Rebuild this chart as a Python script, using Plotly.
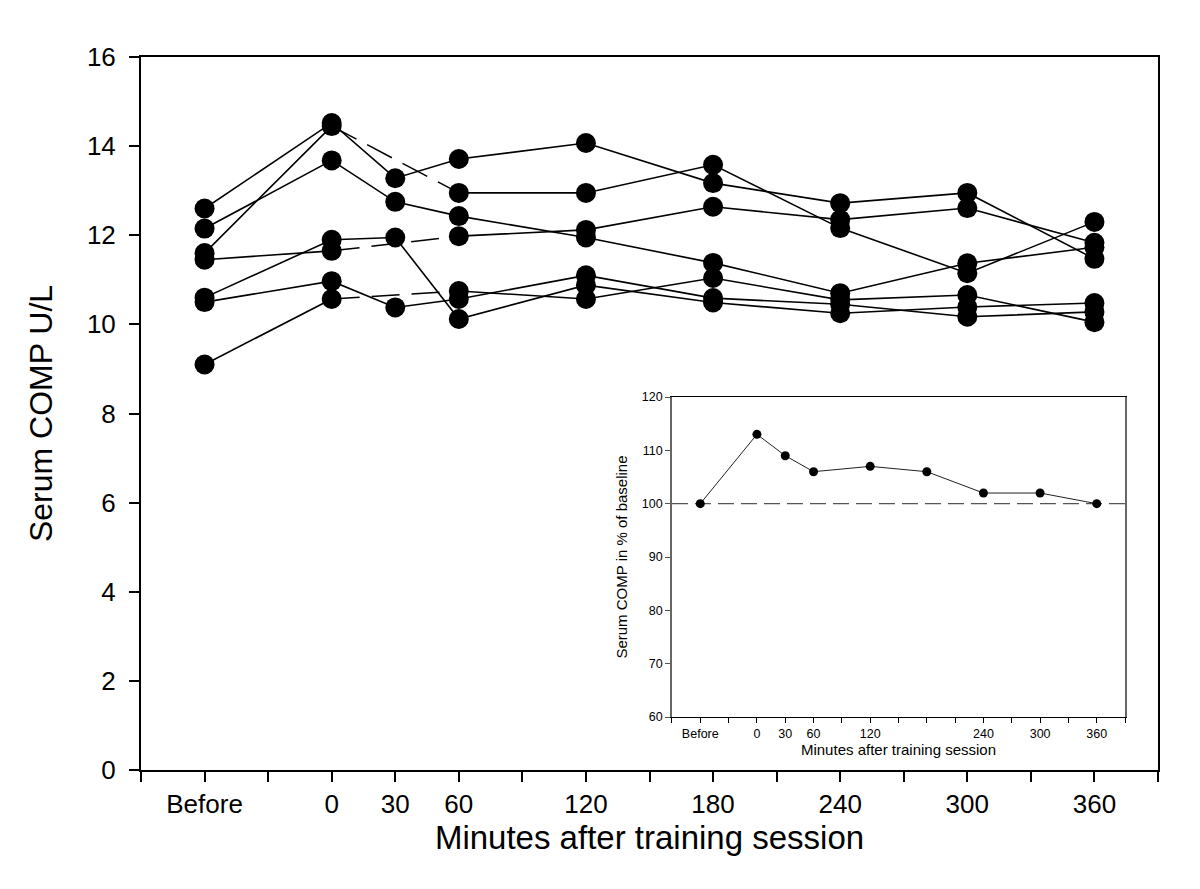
import plotly.graph_objects as go

# ---------------- data ----------------
categories = ["Before", "0", "30", "60", "120", "180", "240", "300", "360"]
# axis slot of each category (the axis has 17 evenly spaced ticks, 0..16)
cat_slot = [1, 3, 4, 5, 7, 9, 11, 13, 15]

subject_a = [12.60, 14.52, 13.28, 13.71, 14.07, 13.17, 12.72, 12.95, 11.47]
subject_b = [11.60, 14.45, None, 12.95, 12.95, 13.58, 12.16, 11.15, 12.30]
subject_c = [12.15, 13.68, 12.75, 12.43, 11.95, 11.38, 10.70, 11.37, 11.73]
subject_d = [10.60, 11.90, 11.95, 10.12, 10.88, 10.49, 10.25, 10.39, 10.48]
subject_e = [11.45, 11.65, None, 11.98, 12.12, 12.64, 12.35, 12.61, 11.83]
subject_f = [10.50, 10.97, 10.38, 10.57, 11.10, 10.59, 10.45, 10.17, 10.28]
subject_g = [9.10, 10.57, None, 10.75, 10.57, 11.04, 10.55, 10.66, 10.05]
subjects = [subject_a, subject_b, subject_c, subject_d, subject_e, subject_f, subject_g]

main_y_ticks = [0, 2, 4, 6, 8, 10, 12, 14, 16]

# inset: mean in % of baseline
inset_labels = ["Before", "0", "30", "60", "120", "", "240", "300", "360"]
inset_pct = [100, 113, 109, 106, 107, 106, 102, 102, 100]
baseline_pct = 100
inset_y_ticks = [60, 70, 80, 90, 100, 110, 120]

FONT = "Liberation Sans, Arial, Helvetica, sans-serif"

# tick text for the 17 slots
main_ticktext = [""] * 17
for s, c in zip(cat_slot, categories):
    main_ticktext[s] = c
inset_ticktext = [""] * 17
for s, c in zip(cat_slot, inset_labels):
    inset_ticktext[s] = c

fig = go.Figure()

# dashed connectors over missing 30-min samples
for subj in subjects:
    for i, v in enumerate(subj):
        if v is None:
            j0, j1 = i - 1, i + 1
            fig.add_trace(go.Scatter(
                x=[cat_slot[j0], cat_slot[j1]], y=[subj[j0], subj[j1]],
                mode="lines", line=dict(color="black", width=1.5, dash="28px,12px"),
                showlegend=False, hoverinfo="skip"))

for subj in subjects:
    fig.add_trace(go.Scatter(
        x=cat_slot, y=subj, mode="lines+markers",
        line=dict(color="black", width=1.6),
        marker=dict(color="black", size=20),
        connectgaps=False, showlegend=False))

# inset
fig.add_trace(go.Scatter(
    x=[0, 16], y=[baseline_pct, baseline_pct], xaxis="x2", yaxis="y2",
    mode="lines", line=dict(color="#555555", width=1.2, dash="16px,7px"),
    showlegend=False, hoverinfo="skip"))
fig.add_trace(go.Scatter(
    x=cat_slot, y=inset_pct, xaxis="x2", yaxis="y2",
    mode="lines+markers", line=dict(color="#222222", width=1),
    marker=dict(color="black", size=9), showlegend=False))

fig.update_layout(
    width=1200, height=889,
    margin=dict(l=133, r=50, t=49, b=127),
    paper_bgcolor="white", plot_bgcolor="white",
    font=dict(family=FONT, color="black"),
    xaxis=dict(
        range=[0, 16], tickmode="array", tickvals=list(range(17)), ticktext=main_ticktext,
        ticks="outside", ticklen=10, tickwidth=1.5, tickcolor="black",
        showline=True, linecolor="black", linewidth=2, mirror=True,
        showgrid=False, zeroline=False, tickfont=dict(size=26),
        title=dict(text="Minutes after training session", font=dict(size=33), standoff=8),
    ),
    yaxis=dict(
        range=[0, 16], tickmode="array", tickvals=main_y_ticks,
        ticks="outside", ticklen=10, tickwidth=1.5, tickcolor="black",
        showline=True, linecolor="black", linewidth=2, mirror=True,
        showgrid=False, zeroline=False, tickfont=dict(size=26), ticklabelstandoff=8,
        title=dict(text="Serum COMP U/L", font=dict(size=32), standoff=25),
    ),
    xaxis2=dict(
        domain=[0.5221, 0.9676], anchor="y2", range=[0, 16],
        tickmode="array", tickvals=list(range(17)), ticktext=inset_ticktext,
        ticks="outside", ticklen=5, tickwidth=1, tickcolor="black",
        showline=True, linecolor="black", linewidth=1.2, mirror=True,
        showgrid=False, zeroline=False, tickfont=dict(size=12.5),
        title=dict(text="Minutes after training session", font=dict(size=15), standoff=2),
    ),
    yaxis2=dict(
        domain=[0.0743, 0.5231], anchor="x2", range=[60, 120],
        tickmode="array", tickvals=inset_y_ticks,
        ticks="outside", ticklen=5, tickwidth=1, tickcolor="#555555",
        showline=True, linecolor="#666666", linewidth=1.5, mirror=True,
        showgrid=False, zeroline=False, tickfont=dict(size=12.5),
        title=dict(text="Serum COMP in % of baseline", font=dict(size=15), standoff=11),
    ),
)

fig.write_html("out.html")
